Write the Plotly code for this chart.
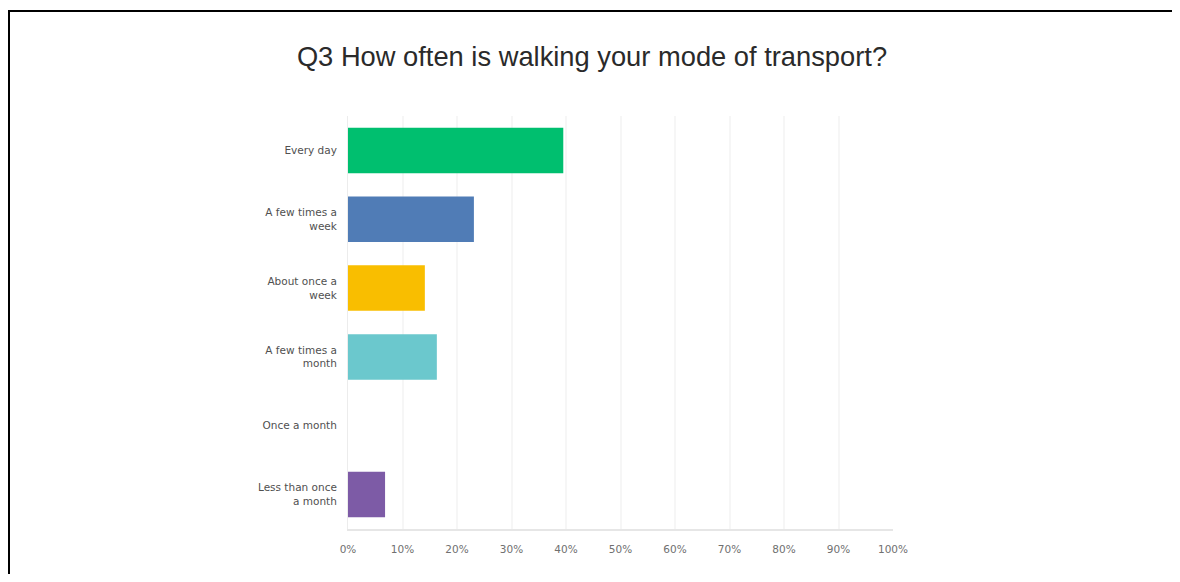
import plotly.graph_objects as go

categories = ["Every day", "A few times a<br>week", "About once a<br>week",
              "A few times a<br>month", "Once a month", "Less than once<br>a month"]
values = [39.5, 23.1, 14.1, 16.3, 0.0, 6.8]
colors = ["#00bf6f", "#507cb6", "#f9be00", "#6bc8cd", "#7d5ba6", "#7d5ba6"]
tick_vals = [0, 10, 20, 30, 40, 50, 60, 70, 80, 90, 100]
tick_text = ["0%", "10%", "20%", "30%", "40%", "50%", "60%", "70%", "80%", "90%", "100%"]
title_text = "Q3 How often is walking your mode of transport?"

# figure is shown with an 8px page margin
W, H = 1172, 566
L, R, T, B = 340, 287, 108, 45
pw, ph = W - L - R, H - T - B

fig = go.Figure(go.Bar(
    x=values, y=categories, orientation="h",
    marker=dict(color=colors, line=dict(width=0)),
    width=0.66, hoverinfo="x+y",
))

def px2paper_x(px):
    return (px - L) / pw

def px2paper_y(py):
    return (H - B - py) / ph

fig.add_shape(type="rect", xref="paper", yref="paper",
              x0=px2paper_x(1), x1=px2paper_x(1170),
              y0=px2paper_y(620), y1=px2paper_y(3),
              line=dict(color="black", width=2), fillcolor="rgba(0,0,0,0)", layer="above")

fig.update_layout(
    width=W, height=H,
    margin=dict(l=L, r=R, t=T, b=B),
    paper_bgcolor="white", plot_bgcolor="white",
    showlegend=False,
    title=dict(text=title_text, x=(592 - 8) / W, xref="container", xanchor="center",
               y=1 - 48 / H, yref="container", yanchor="middle",
               font=dict(family="Liberation Sans, Arial, sans-serif", size=27.3, color="#2a2a2a")),
    xaxis=dict(range=[0, 100], tickvals=tick_vals, ticktext=tick_text,
               showgrid=True, gridcolor="#f6f6f6", gridwidth=2,
               zeroline=False, showline=True, linecolor="#e6e6e6", linewidth=2,
               ticks="", ticklen=0, ticklabelstandoff=9,
               tickfont=dict(family="DejaVu Sans, sans-serif", size=10.5, color="#707070"),
               fixedrange=True),
    yaxis=dict(categoryorder="array", categoryarray=categories[::-1],
               autorange=False, range=[-0.5, len(categories) - 0.5],
               showgrid=False, zeroline=False, showline=True, linecolor="#ececec", linewidth=1,
               ticks="", ticklabelstandoff=8,
               tickfont=dict(family="DejaVu Sans, sans-serif", size=10.5, color="#505050"),
               fixedrange=True),
    bargap=0.34,
)

fig.write_html("out.html")
